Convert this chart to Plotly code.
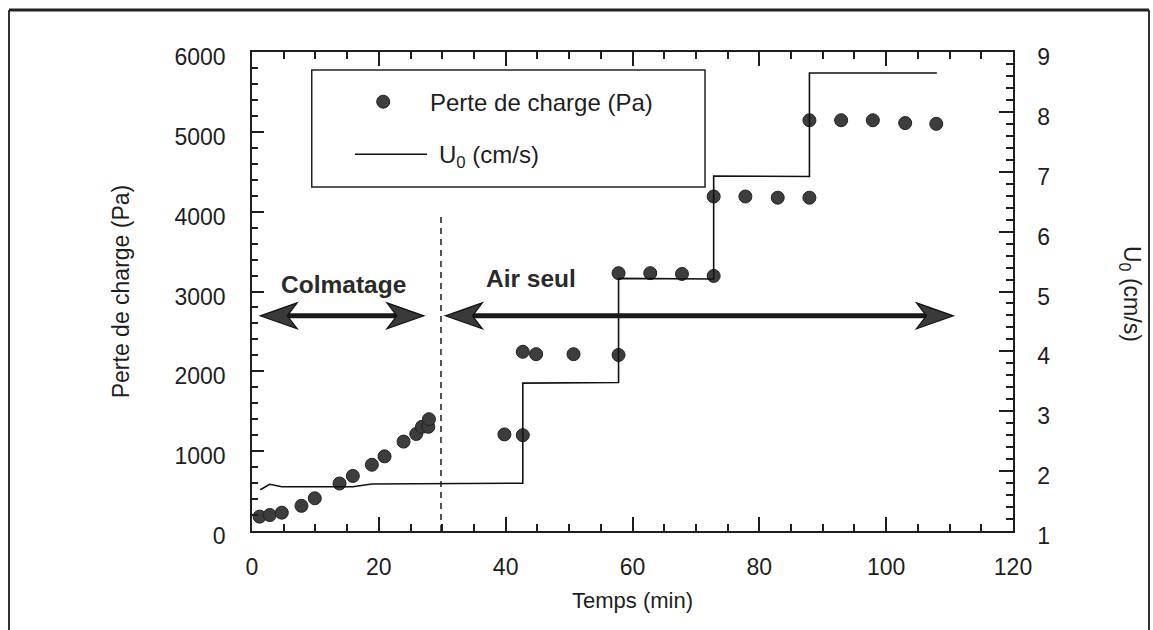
import plotly.graph_objects as go

# ---- data ----
time_pa = [1.2, 2.8, 4.7, 7.8, 9.9, 13.8, 15.9, 18.9, 20.9, 23.9, 25.9, 26.8, 27.8, 27.9,
           39.8, 42.7, 42.7, 44.8, 50.7, 57.8, 57.8, 62.8, 67.8, 72.8, 72.8, 77.8, 82.9,
           87.9, 87.9, 92.9, 97.9, 103.0, 107.9]
perte_charge = [180, 200, 230, 315, 410, 595, 690, 830, 935, 1120, 1215, 1305, 1305, 1400,
                1210, 1200, 2245, 2215, 2215, 2205, 3230, 3230, 3220, 3195, 4190, 4190, 4175,
                4175, 5145, 5145, 5145, 5110, 5100]

time_u = [1.3, 2.8, 4.7, 15.9, 18.9, 42.7, 42.7, 57.8, 57.8, 72.8, 72.8, 87.9, 87.9, 108.0]
u0 = [1.69, 1.78, 1.74, 1.74, 1.785, 1.80, 3.47, 3.48, 5.22, 5.21, 6.93, 6.92, 8.65, 8.65]

x_ticks = [0, 20, 40, 60, 80, 100, 120]
y_ticks = [0, 1000, 2000, 3000, 4000, 5000, 6000]
y2_ticks = [1, 2, 3, 4, 5, 6, 7, 8, 9]

t_phase_change = 29.8          # dashed separator
arrow_level = 2695             # Pa level of the phase arrows
colmatage_span = (1.3, 27.1)
air_span = (30.5, 110.6)

FONT = "Liberation Sans, Arial, sans-serif"
INK = "#1e1e1e"

fig = go.Figure()

fig.add_trace(go.Scatter(
    x=time_u, y=u0, yaxis="y2", mode="lines",
    line=dict(color="#111111", width=1.6), name="U0 (cm/s)", showlegend=False))

fig.add_trace(go.Scatter(
    x=time_pa, y=perte_charge, mode="markers",
    marker=dict(size=13, color="#3d3d3d", line=dict(color="#222222", width=1)),
    name="Perte de charge (Pa)", showlegend=False))

axis_common = dict(showgrid=False, zeroline=False, showline=True, linecolor=INK,
                   linewidth=1.5, ticks="inside", tickcolor=INK, tickwidth=1.5,
                   tickfont=dict(family=FONT, size=23, color=INK))

fig.update_layout(
    width=1153, height=630,
    margin=dict(l=252, r=140, t=52, b=99, autoexpand=False),
    paper_bgcolor="white", plot_bgcolor="white",
    xaxis=dict(range=[0, 120], tickvals=x_ticks, ticklen=14, mirror="ticks",
               minor=dict(dtick=5, tick0=0, ticks="inside", ticklen=7,
                          tickcolor=INK, tickwidth=1.5),
               ticklabelstandoff=15,
               title=dict(text="Temps (min)", font=dict(family=FONT, size=22, color=INK),
                          standoff=13),
               **axis_common),
    yaxis=dict(range=[0, 6000], tickvals=y_ticks, ticklen=12, mirror=False,
               minor=dict(dtick=200, tick0=0, ticks="inside", ticklen=6,
                          tickcolor=INK, tickwidth=1.5),
               ticklabelstandoff=20, ticklabelshift=5,
               title=dict(text="Perte de charge (Pa)", font=dict(family=FONT, size=23, color=INK),
                          standoff=38),
               **axis_common),
    yaxis2=dict(range=[1, 9], tickvals=y2_ticks, overlaying="y", side="right",
                ticklen=14,
                minor=dict(dtick=0.2, tick0=1, ticks="inside", ticklen=7,
                           tickcolor=INK, tickwidth=1.5),
                ticklabelstandoff=18, ticklabelshift=5,
                **axis_common),
    showlegend=False,
)

shapes = []
# outer frame of the figure (scan border)
shapes.append(dict(type="line", xref="paper", yref="paper", x0=-0.3193, x1=1.1787,
                   y0=1.0877, y1=1.0877, line=dict(color="#222", width=3)))
shapes.append(dict(type="line", xref="paper", yref="paper", x0=-0.3193, x1=-0.3193,
                   y0=1.0877, y1=-0.25, line=dict(color="#333", width=2)))
shapes.append(dict(type="line", xref="paper", yref="paper", x0=1.1787, x1=1.1787,
                   y0=1.0877, y1=-0.25, line=dict(color="#333", width=2)))

# dashed separator
shapes.append(dict(type="line", xref="x", yref="y", x0=t_phase_change, x1=t_phase_change,
                   y0=0, y1=3960, line=dict(color=INK, width=1.5, dash="6px,5px")))

# phase arrows
def arrow(t0, t1):
    out = [dict(type="line", xref="x", yref="y", x0=t0 + 2, x1=t1 - 2,
                y0=arrow_level, y1=arrow_level, line=dict(color="#1a1a1a", width=5))]
    for tip, d in ((t0, -1), (t1, 1)):
        path = f"M 0,0 L {-d*37},13 L {-d*27},0 L {-d*37},-13 Z"
        out.append(dict(type="path", xref="x", yref="y", xsizemode="pixel",
                        ysizemode="pixel", xanchor=tip, yanchor=arrow_level, path=path,
                        fillcolor="#3a3a3a", line=dict(color="#111", width=1.2)))
    return out

shapes += arrow(*colmatage_span)
shapes += arrow(*air_span)

# legend box (drawn like the original)
shapes.append(dict(type="rect", xref="paper", yref="paper", x0=0.0785, x1=0.5953,
                   y0=0.7182, y1=0.9624, line=dict(color="#222", width=1.5),
                   fillcolor="rgba(0,0,0,0)"))
shapes.append(dict(type="line", xref="paper", yref="paper", x0=0.1353, x1=0.2300,
                   y0=0.7864, y1=0.7864, line=dict(color="#111", width=1.6)))
shapes.append(dict(type="circle", xref="paper", yref="paper", xsizemode="pixel",
                   ysizemode="pixel", xanchor=0.1724, yanchor=0.8963,
                   x0=-6.5, x1=6.5, y0=-6.5, y1=6.5,
                   fillcolor="#3d3d3d", line=dict(color="#222", width=1)))

annotations = [
    dict(text="Perte de charge (Pa)", xref="paper", yref="paper", x=0.2319, y=0.8942,
         xanchor="left", yanchor="middle", showarrow=False,
         font=dict(family=FONT, size=24, color=INK)),
    dict(text="U<sub>0</sub> (cm/s)", xref="paper", yref="paper", x=0.2431, y=0.782,
         xanchor="left", yanchor="middle", showarrow=False,
         font=dict(family=FONT, size=24, color=INK)),
    dict(text="<b>Colmatage</b>", xref="x", yref="y", x=14.5, y=3085,
         xanchor="center", yanchor="middle", showarrow=False,
         font=dict(family=FONT, size=24.5, color="#2a2a2a")),
    dict(text="<b>Air seul</b>", xref="x", yref="y", x=44.0, y=3160,
         xanchor="center", yanchor="middle", showarrow=False,
         font=dict(family=FONT, size=24.5, color="#2a2a2a")),
    dict(text="U<sub>0</sub> (cm/s)", xref="paper", yref="paper", x=1.1538, y=0.4948,
         xanchor="center", yanchor="middle", textangle=90, showarrow=False,
         font=dict(family=FONT, size=23, color=INK)),
]

fig.update_layout(shapes=shapes, annotations=annotations)

fig.write_html("out.html", config={"displayModeBar": False},
               post_script="document.body.style.margin='0';document.body.style.overflow='hidden';")
